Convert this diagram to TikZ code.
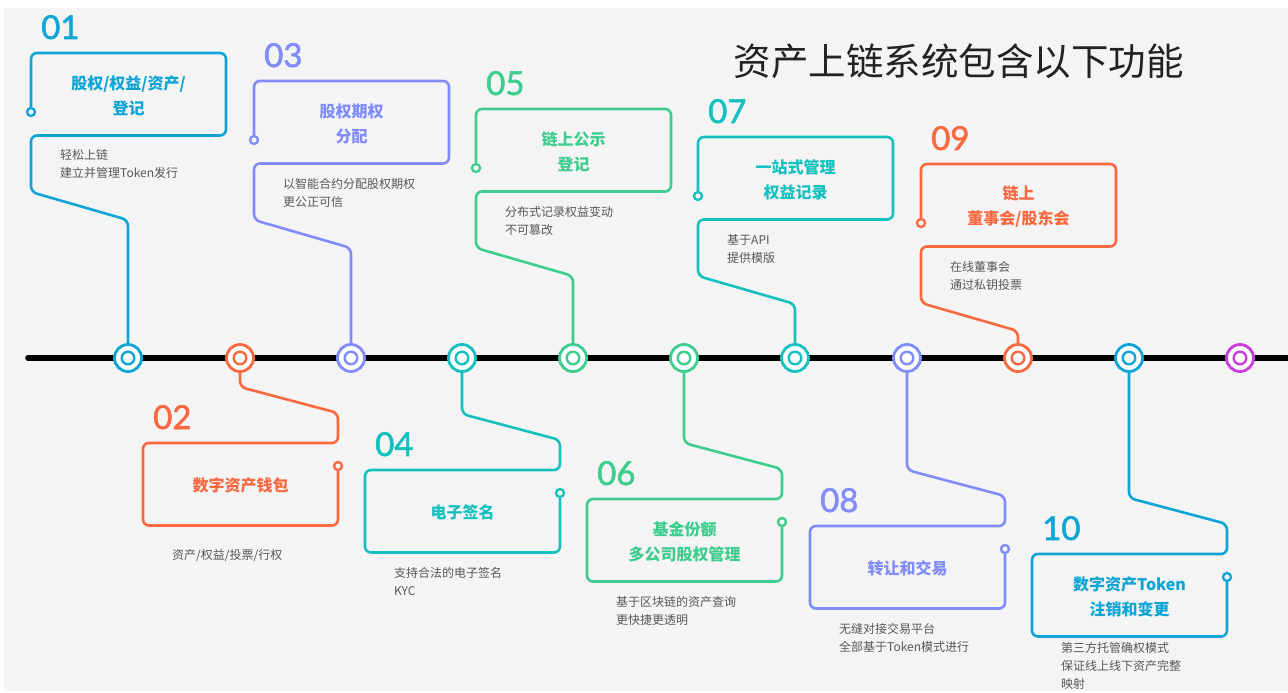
\documentclass[tikz,border=0pt]{standalone}
\usepackage{fontspec}
\setmainfont{Noto Sans CJK SC}
\newfontfamily\numfont[FakeBold=1.6]{Lato}
\definecolor{cBlue}{RGB}{14,165,214}
\definecolor{cOrange}{RGB}{250,104,64}
\definecolor{cPurple}{RGB}{128,140,250}
\definecolor{cTeal}{RGB}{20,193,190}
\definecolor{cGreen}{RGB}{62,205,142}
\definecolor{cMagenta}{RGB}{200,62,218}
\definecolor{bg}{RGB}{244,244,244}
\definecolor{descgray}{RGB}{88,88,88}
\definecolor{titlegray}{RGB}{34,34,34}
\tikzset{
  tlring/.style={circle, draw=#1, fill=white, line width=2.8pt, minimum size=27pt, inner sep=0pt,
    path picture={\draw[#1, line width=2.4pt] (path picture bounding box.center) circle[radius=6.3pt];}},
  endcirc/.style={circle, draw=#1, fill=bg, line width=2.3pt, minimum size=8pt, inner sep=0pt},
  conn/.style={draw=#1, line width=2.6pt, rounded corners=6pt},
  numlbl/.style={text=#1, font=\numfont\fontsize{33}{33}\selectfont, inner sep=0pt, anchor=base west},
  ttl/.style={text=#1, font=\bfseries\fontsize{16}{25}\selectfont, align=center, inner sep=0pt},
  descr/.style={text=descgray, font=\fontsize{12}{18}\selectfont, align=left, inner sep=0pt, anchor=north west},
}
% #1 id, #2 L, #3 T, #4 colour, #5 number, #6 title, #7 description, #8 first-line centre y
\newcommand\UpItem[8]{%
  \node[tlring=#4] (t#1) at ({#2+97},358) {};
  \node[endcirc=#4] (e#1) at (#2,{#3+59}) {};
  \draw[conn=#4] (e#1) -- (#2,#3) -- ({#2+195},#3) -- ({#2+195},{#3+82.5})
     -- (#2,{#3+82.5}) -- (#2,{#3+139}) -- ({#2+97},{#3+167}) -- (t#1);
  \node[numlbl=#4] (n#1) at ({#2+10},{#3-14}) {#5};
  \node[ttl=#4] (h#1) at ({#2+97.5},{#3+42.5}) {#6};
  \node[descr] (d#1) at ({#2+29},{#8-6}) {#7};
}
\newcommand\LowItem[8]{%
  \node[tlring=#4] (t#1) at ({#2+97},358) {};
  \node[endcirc=#4] (e#1) at ({#2+195},{#3+23}) {};
  \draw[conn=#4] (t#1) -- ({#2+97},{#3-56}) -- ({#2+195},{#3-30}) -- ({#2+195},#3)
     -- (#2,#3) -- (#2,{#3+82.5}) -- ({#2+195},{#3+82.5}) -- (e#1);
  \node[numlbl=#4] (n#1) at ({#2+10},{#3-14}) {#5};
  \node[ttl=#4] (h#1) at ({#2+97.5},{#3+42.5}) {#6};
  \node[descr] (d#1) at ({#2+29},{#8-6}) {#7};
}
\begin{document}
\begin{tikzpicture}[x=1pt,y=-1pt]
\useasboundingbox (0,0) rectangle (1288,693);
\fill[white] (0,0) rectangle (1288,693);
\fill[bg] (4,8) rectangle (1288,691);
\node[font=\fontsize{37.5}{40}\selectfont, text=titlegray, inner sep=0pt] (title) at (958.5,61.5) {资产上链系统包含以下功能};
\coordinate (tlA) at (28,358);
\coordinate (tlB) at (1292,358);
\draw[line width=5.6pt, line cap=round] (tlA) -- (tlB);
\UpItem{1}{31}{53}{cBlue}{01}{股权/权益/资产/\\登记}{轻松上链\\建立并管理Token发行}{155}
\UpItem{3}{254}{81}{cPurple}{03}{股权期权\\分配}{以智能合约分配股权期权\\更公正可信}{184}
\UpItem{5}{476}{109}{cGreen}{05}{链上公示\\登记}{分布式记录权益变动\\不可篡改}{212}
\UpItem{7}{698}{137}{cTeal}{07}{一站式管理\\权益记录}{基于API\\提供模版}{240}
\UpItem{9}{921}{164}{cOrange}{09}{链上\\董事会/股东会}{在线董事会\\通过私钥投票}{267}
\LowItem{2}{143}{443}{cOrange}{02}{数字资产钱包}{资产/权益/投票/行权}{555}
\LowItem{4}{365}{470}{cTeal}{04}{电子签名}{支持合法的电子签名\\KYC}{573}
\LowItem{6}{587}{499}{cGreen}{06}{基金份额\\多公司股权管理}{基于区块链的资产查询\\更快捷更透明}{602}
\LowItem{8}{810}{526}{cPurple}{08}{转让和交易}{无缝对接交易平台\\全部基于Token模式进行}{629}
\LowItem{10}{1032}{554}{cBlue}{10}{数字资产Token\\注销和变更}{第三方托管确权模式\\保证线上线下资产完整\\映射}{648}
\node[tlring=cMagenta] (t11) at (1240,358) {};
\end{tikzpicture}
\end{document}
